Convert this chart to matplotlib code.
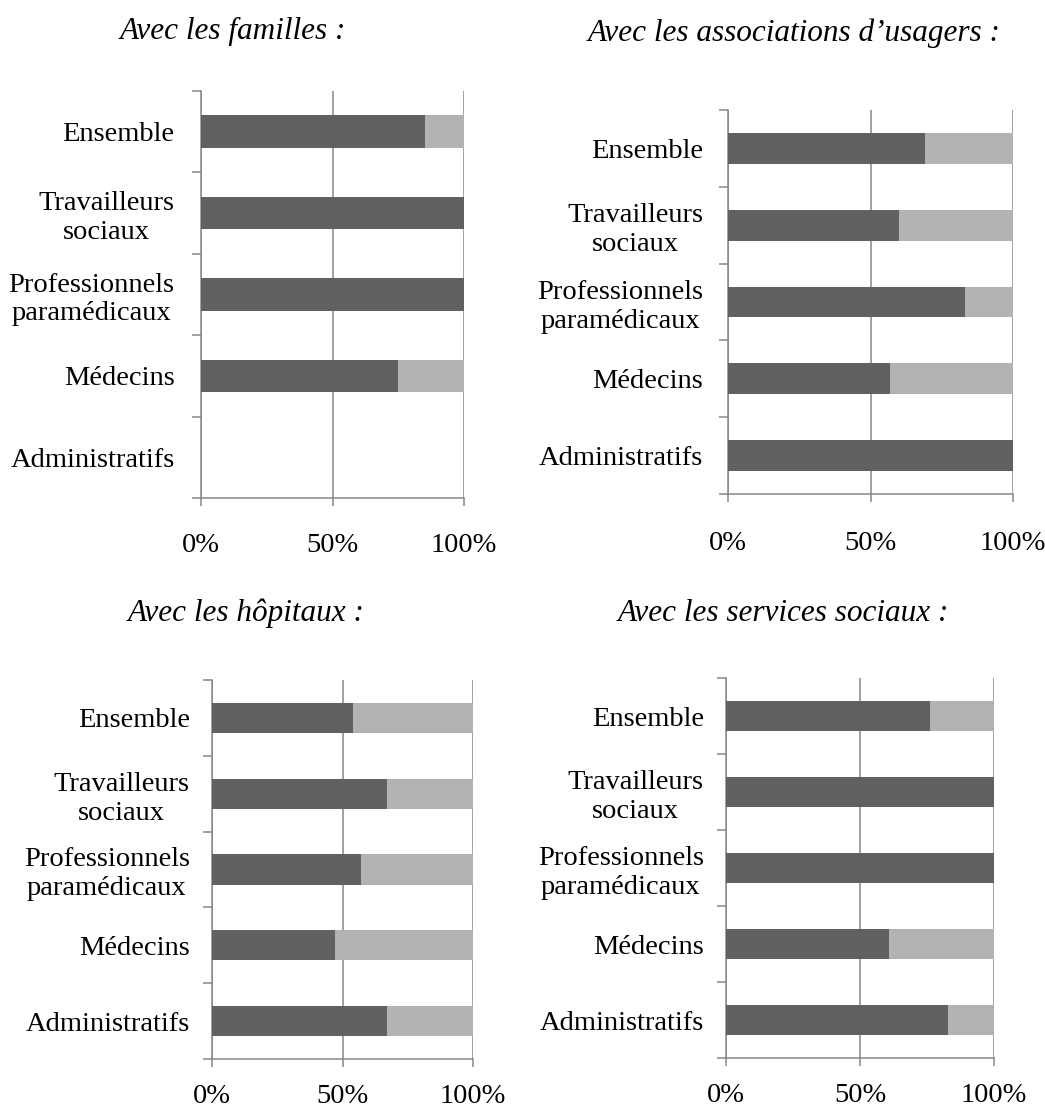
import matplotlib.pyplot as plt
import numpy as np

plt.rcParams['font.family'] = ['Liberation Serif', 'DejaVu Serif']

# categories, top to bottom
categories = ["Ensemble", "Travailleurs\nsociaux", "Professionnels\nparamédicaux",
              "Médecins", "Administratifs"]

# share (%) dark segment / light segment, same order as categories
familles_dark = [85, 100, 100, 75, 0]
familles_light = [15, 0, 0, 25, 0]

associations_dark = [69, 60, 83, 57, 100]
associations_light = [31, 40, 17, 43, 0]

hopitaux_dark = [54, 67, 57, 47, 67]
hopitaux_light = [46, 33, 43, 53, 33]

services_dark = [76, 100, 100, 61, 83]
services_light = [24, 0, 0, 39, 17]

titles = ["Avec les familles :", "Avec les associations d\u2019usagers :",
          "Avec les hôpitaux :", "Avec les services sociaux :"]
x_ticks = [0, 50, 100]
x_ticklabels = ["0%", "50%", "100%"]

DARK = "#616161"
LIGHT = "#b3b3b3"
AXIS = "#878787"

W, H = 1045, 1110
fig = plt.figure(figsize=(W / 100, H / 100), dpi=100)


def px_axes(x0, y0, x1, y1):
    return fig.add_axes([x0 / W, 1 - y1 / H, (x1 - x0) / W, (y1 - y0) / H])


panels = [
    (px_axes(201, 91, 464, 498), familles_dark, familles_light, 19, 19),
    (px_axes(728, 110, 1013, 494), associations_dark, associations_light, 18, 21),
    (px_axes(212, 680, 473, 1059), hopitaux_dark, hopitaux_light, 16, 12),
    (px_axes(726, 678, 994, 1058), services_dark, services_light, 16, 12),
]

ypos = np.arange(len(categories))[::-1]

for ax, dark, light, ypad, xpad in panels:
    ax.barh(ypos, dark, height=0.4, color=DARK, linewidth=0, zorder=3)
    ax.barh(ypos, light, left=dark, height=0.4, color=LIGHT, linewidth=0, zorder=3)
    ax.set_xlim(0, 100)
    ax.set_ylim(-0.5, len(categories) - 0.5)

    ax.set_xticks(x_ticks)
    ax.set_xticklabels(x_ticklabels, fontsize=20.5)
    ax.tick_params(axis="x", direction="out", length=6, width=1.1, color=AXIS, pad=xpad)

    ax.set_yticks(ypos)
    ax.set_yticklabels(categories, fontsize=20.5)
    for lab in ax.get_yticklabels():
        lab.set_multialignment("center")
    ax.tick_params(axis="y", which="major", length=0, pad=ypad)
    ax.set_yticks(np.arange(-0.5, len(categories), 1.0), minor=True)
    ax.tick_params(axis="y", which="minor", direction="out", length=6.5, width=1.1, color=AXIS)

    ax.grid(axis="x", color=AXIS, linewidth=1.1, zorder=0)
    ax.set_axisbelow(True)
    for side in ["top", "right"]:
        ax.spines[side].set_visible(False)
    for side in ["left", "bottom"]:
        ax.spines[side].set_color(AXIS)
        ax.spines[side].set_linewidth(1.1)

# titles, placed in figure pixels
title_pos = [(233, 39), (794, 41), (246, 621), (783, 621)]
for t, (tx, ty) in zip(titles, title_pos):
    fig.text(tx / W, 1 - ty / H, t, fontsize=22.5, style="italic",
             ha="center", va="baseline")

plt.savefig("out.png", dpi=100)
